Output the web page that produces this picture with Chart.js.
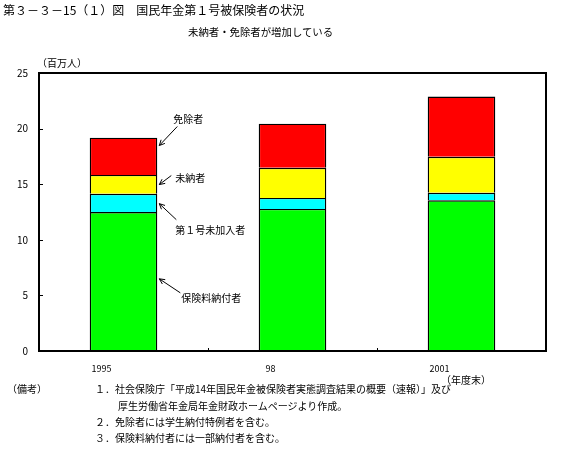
<!DOCTYPE html>
<html><head><meta charset="utf-8">
<script src="https://cdn.jsdelivr.net/npm/chart.js@4"></script>
<style>
html,body{margin:0;padding:0;background:#fff;}
#wrap{position:relative;width:567px;height:465px;font-family:"Noto Sans CJK JP",sans-serif;color:#000;}
canvas{position:absolute;left:0;top:0;}
.t{position:absolute;white-space:nowrap;line-height:1;}
</style></head>
<body>
<div id="wrap">
<canvas id="c" width="567" height="465"></canvas>
<div class="t" style="left:3px;top:4px;font-size:12px;">第３－３－15（１）図　国民年金第１号被保険者の状況</div>
<div class="t" style="left:188px;top:27px;font-size:10.4px;">未納者・免除者が増加している</div>
<div class="t" style="left:37px;top:58px;font-size:10px;">（百万人）</div>
<div class="t" style="left:441px;top:375px;font-size:10px;">（年度末）</div>
<div class="t" style="left:7px;top:384px;font-size:10px;">（備考）</div>
<div class="t" style="left:95px;top:384px;font-size:10px;">１．社会保険庁「平成14年国民年金被保険者実態調査結果の概要（速報）」及び</div>
<div class="t" style="left:118px;top:401px;font-size:10px;">厚生労働省年金局年金財政ホームページより作成。</div>
<div class="t" style="left:95px;top:417px;font-size:10px;">２．免除者には学生納付特例者を含む。</div>
<div class="t" style="left:95px;top:433px;font-size:10px;">３．保険料納付者には一部納付者を含む。</div>
</div>
<script>
const categories = ["1995", "98", "2001"];
const paidValues = [12.5, 12.78, 13.55];      // 保険料納付者
const unenrolledValues = [1.63, 0.99, 0.67];  // 第１号未加入者
const unpaidValues = [1.7, 2.7, 3.25];        // 未納者
const exemptValues = [3.35, 3.97, 5.41];      // 免除者
const yTicks = [0, 5, 10, 15, 20, 25];
const seriesNames = ["保険料納付者", "第１号未加入者", "未納者", "免除者"];
const annotationTargets = [6.49, 13.25, 14.97, 18.48]; // value on first bar each label points to

const FONT = '"Noto Sans CJK JP", sans-serif';

const framePlugin = {
  id: 'frame',
  afterDatasetsDraw(chart) {
    const {ctx, chartArea: a, scales: {x, y}} = chart;
    ctx.save();
    ctx.strokeStyle = '#000';
    ctx.lineWidth = 1;
    y.ticks.forEach((t, i) => {
      const py = Math.round(y.getPixelForTick(i)) + 0.5;
      ctx.beginPath(); ctx.moveTo(a.left, py); ctx.lineTo(a.left + 4, py); ctx.stroke();
    });
    for (let i = 0; i < categories.length - 1; i++) {
      const px = Math.round((x.getPixelForValue(i) + x.getPixelForValue(i + 1)) / 2) + 0.5;
      ctx.beginPath(); ctx.moveTo(px, a.bottom); ctx.lineTo(px, a.bottom - 3); ctx.stroke();
    }
    ctx.lineWidth = 2;
    ctx.strokeRect(a.left, a.top, a.right - a.left, a.bottom - a.top);
    const bar = chart.getDatasetMeta(0).data[0];
    const tipX = bar.x + bar.width / 2 + 2;
    const offsets = [
      [21, 14, 22, 19],
      [17, 16, 16, 27],
      [12, -9, 16, -6],
      [18, -19, 14, -26]
    ];
    ctx.font = '10px ' + FONT;
    ctx.fillStyle = '#000';
    ctx.textBaseline = 'middle';
    ctx.textAlign = 'left';
    ctx.lineWidth = 1;
    annotationTargets.forEach((v, i) => {
      const ty = y.getPixelForValue(v);
      const o = offsets[i];
      const hx = tipX, hy = ty;
      const sx = tipX + o[0], sy = ty + o[1];
      ctx.beginPath(); ctx.moveTo(sx, sy); ctx.lineTo(hx, hy); ctx.stroke();
      const ang = Math.atan2(hy - sy, hx - sx);
      const L = 6, w = 0.45;
      ctx.beginPath();
      ctx.moveTo(hx, hy);
      ctx.lineTo(hx - L * Math.cos(ang - w), hy - L * Math.sin(ang - w));
      ctx.moveTo(hx, hy);
      ctx.lineTo(hx - L * Math.cos(ang + w), hy - L * Math.sin(ang + w));
      ctx.stroke();
      ctx.fillText(seriesNames[i], tipX + o[2], ty + o[3]);
    });
    ctx.restore();
  }
};

const mk = (label, data, color) => ({
  label, data, backgroundColor: color, borderColor: '#000', borderWidth: 1.4,
  borderSkipped: 'start', categoryPercentage: 0.4, barPercentage: 1
});

new Chart(document.getElementById('c'), {
  type: 'bar',
  data: {
    labels: categories,
    datasets: [
      mk(seriesNames[0], paidValues, '#00ff00'),
      mk(seriesNames[1], unenrolledValues, '#00ffff'),
      mk(seriesNames[2], unpaidValues, '#ffff00'),
      mk(seriesNames[3], exemptValues, '#ff0000')
    ]
  },
  options: {
    responsive: false,
    animation: false,
    layout: {padding: {top: 73, right: 21, left: 0, bottom: 0}},
    plugins: {legend: {display: false}, tooltip: {enabled: false}},
    scales: {
      x: {
        stacked: true,
        grid: {display: false, drawTicks: false},
        border: {display: false},
        ticks: {padding: 12, labelOffset: -22, color: '#000', font: {family: FONT, size: 9}, maxRotation: 0},
        afterFit(s) { s.height = 114; }
      },
      y: {
        stacked: true, min: 0, max: 25,
        afterBuildTicks(s) { s.ticks = yTicks.map(v => ({value: v})); },
        grid: {display: false, drawTicks: false},
        border: {display: false},
        ticks: {padding: 11, color: '#000', font: {family: FONT, size: 10}},
        afterFit(s) { s.width = 39; }
      }
    }
  },
  plugins: [framePlugin]
});
</script>
</body></html>
